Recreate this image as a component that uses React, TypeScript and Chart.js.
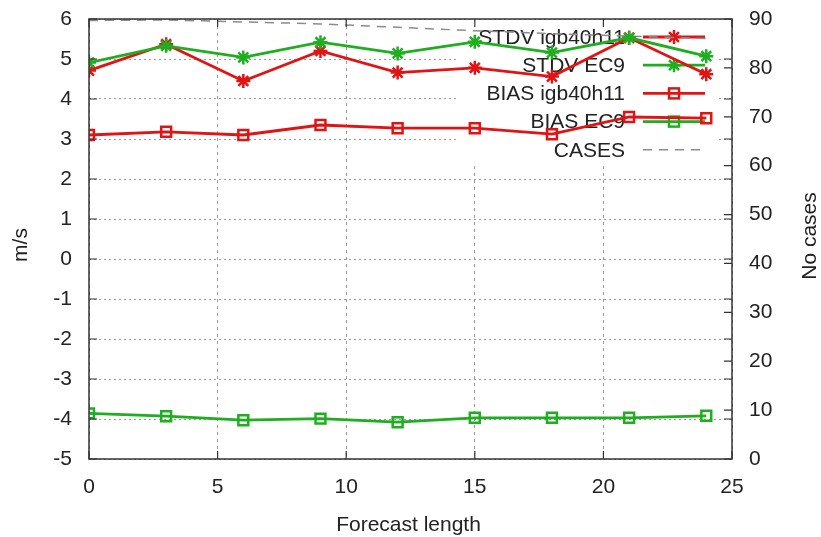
import React, { useEffect, useRef } from 'react';
import { Chart, registerables } from 'chart.js';

Chart.register(...registerables);

// ---- data ----
const forecastHours = [0, 3, 6, 9, 12, 15, 18, 21, 24];
const stdvIgb40h11 = [4.71, 5.37, 4.45, 5.2, 4.66, 4.78, 4.56, 5.53, 4.62];
const stdvEC9 = [4.91, 5.33, 5.04, 5.42, 5.14, 5.43, 5.16, 5.53, 5.07];
const biasIgb40h11 = [3.1, 3.18, 3.1, 3.35, 3.27, 3.27, 3.12, 3.55, 3.52];
const biasEC9 = [-3.86, -3.93, -4.03, -3.99, -4.08, -3.97, -3.97, -3.97, -3.92];
const casesCount = [89.7, 89.8, 89.4, 89, 88.3, 87.6, 87, 86.5, 86];

const seriesNames = ['STDV igb40h11', 'STDV EC9', 'BIAS igb40h11', 'BIAS EC9', 'CASES'];
const xTitle = 'Forecast length';
const yTitle = 'm/s';
const y2Title = 'No cases';

const RED = '#e01414';
const GREEN = '#1fae1f';
const GREY = '#8c8c8c';
const TEXT = '#222222';
const FONT = '"Liberation Sans", Arial, sans-serif';

const pts = (ys: number[]) => forecastHours.map((x, i) => ({ x, y: ys[i] }));

export default function App() {
  const ref = useRef<HTMLCanvasElement>(null);

  useEffect(() => {
    const canvas = ref.current;
    if (!canvas) return;

    const drawStar = (ctx: CanvasRenderingContext2D, x: number, y: number, r: number) => {
      const d = r * Math.SQRT1_2;
      ctx.beginPath();
      ctx.moveTo(x - r, y); ctx.lineTo(x + r, y);
      ctx.moveTo(x, y - r); ctx.lineTo(x, y + r);
      ctx.moveTo(x - d, y - d); ctx.lineTo(x + d, y + d);
      ctx.moveTo(x - d, y + d); ctx.lineTo(x + d, y - d);
      ctx.stroke();
    };

    const legendStyles = [
      { color: RED, marker: 'star', dash: [] as number[] },
      { color: GREEN, marker: 'star', dash: [] as number[] },
      { color: RED, marker: 'rect', dash: [] as number[] },
      { color: GREEN, marker: 'rect', dash: [] as number[] },
      { color: GREY, marker: 'none', dash: [9, 7] },
    ];

    const decor = {
      id: 'gnuplotDecor',
      beforeDatasetsDraw(chart: any) {
        const ctx: CanvasRenderingContext2D = chart.ctx;
        const a = chart.chartArea;
        ctx.save();
        // opaque key box (hides grid behind the key)
        ctx.fillStyle = '#ffffff';
        ctx.fillRect(458, a.top + 1, 258, 144);
        // key entries
        ctx.font = `21px ${FONT}`;
        ctx.textAlign = 'right';
        ctx.textBaseline = 'middle';
        seriesNames.forEach((name, i) => {
          const yy = 37 + i * 28.2;
          ctx.fillStyle = TEXT;
          ctx.fillText(name, 625, yy + 1);
          const st = legendStyles[i];
          ctx.strokeStyle = st.color;
          ctx.lineWidth = st.marker === 'none' ? 1.5 : 2.8;
          ctx.setLineDash(st.dash);
          ctx.beginPath();
          ctx.moveTo(643, yy);
          ctx.lineTo(705, yy);
          ctx.stroke();
          ctx.setLineDash([]);
          ctx.lineWidth = 2.5;
          if (st.marker === 'star') drawStar(ctx, 674, yy, 7);
          if (st.marker === 'rect') ctx.strokeRect(669, yy - 5, 10, 10);
        });
        ctx.restore();
      },
      afterDraw(chart: any) {
        const ctx: CanvasRenderingContext2D = chart.ctx;
        const a = chart.chartArea;
        const xs = chart.scales.x;
        const ys = chart.scales.y;
        const y2 = chart.scales.y1;
        ctx.save();
        // border
        ctx.strokeStyle = '#333333';
        ctx.lineWidth = 1.5;
        ctx.setLineDash([]);
        ctx.strokeRect(a.left, a.top, a.right - a.left, a.bottom - a.top);
        // inward ticks
        const tl = 8;
        ctx.lineWidth = 1.2;
        ctx.beginPath();
        xs.ticks.forEach((t: any) => {
          const px = xs.getPixelForValue(t.value);
          ctx.moveTo(px, a.bottom); ctx.lineTo(px, a.bottom - tl);
          ctx.moveTo(px, a.top); ctx.lineTo(px, a.top + tl);
        });
        ys.ticks.forEach((t: any) => {
          const py = ys.getPixelForValue(t.value);
          ctx.moveTo(a.left, py); ctx.lineTo(a.left + tl, py);
          ctx.moveTo(a.right, py); ctx.lineTo(a.right - tl, py);
        });
        y2.ticks.forEach((t: any) => {
          const py = y2.getPixelForValue(t.value);
          ctx.moveTo(a.right, py); ctx.lineTo(a.right - tl, py);
        });
        ctx.stroke();
        // axis titles
        ctx.fillStyle = TEXT;
        ctx.font = `21px ${FONT}`;
        ctx.textAlign = 'center';
        ctx.textBaseline = 'middle';
        ctx.fillText(xTitle, (a.left + a.right) / 2 - 2, 525);
        ctx.save();
        ctx.translate(21, (a.top + a.bottom) / 2 + 6);
        ctx.rotate(-Math.PI / 2);
        ctx.fillText(yTitle, 0, 0);
        ctx.restore();
        ctx.save();
        ctx.translate(810, (a.top + a.bottom) / 2 - 3);
        ctx.rotate(-Math.PI / 2);
        ctx.fillText(y2Title, 0, 0);
        ctx.restore();
        ctx.restore();
      },
    };

    const lineBase = {
      borderWidth: 2.8,
      pointBorderWidth: 2.5,
      pointBackgroundColor: 'rgba(0,0,0,0)',
      tension: 0,
      fill: false,
    };

    const fitVertical = (s: any) => {
      s.width = 89;
      s.paddingTop = 0;
      s.paddingBottom = 0;
    };

    const chart = new Chart(canvas, {
      type: 'line',
      data: {
        datasets: [
          { ...lineBase, label: seriesNames[1], data: pts(stdvEC9), borderColor: GREEN, pointBorderColor: GREEN, pointStyle: 'star', pointRadius: 7, yAxisID: 'y' },
          { ...lineBase, label: seriesNames[0], data: pts(stdvIgb40h11), borderColor: RED, pointBorderColor: RED, pointStyle: 'star', pointRadius: 7, yAxisID: 'y' },
          { ...lineBase, label: seriesNames[3], data: pts(biasEC9), borderColor: GREEN, pointBorderColor: GREEN, pointStyle: 'rect', pointRadius: 7, yAxisID: 'y' },
          { ...lineBase, label: seriesNames[2], data: pts(biasIgb40h11), borderColor: RED, pointBorderColor: RED, pointStyle: 'rect', pointRadius: 7, yAxisID: 'y' },
          { ...lineBase, label: seriesNames[4], data: pts(casesCount), borderColor: GREY, borderWidth: 1.5, borderDash: [9, 7], pointRadius: 0, yAxisID: 'y1' },
        ],
      },
      options: {
        animation: false,
        responsive: false,
        devicePixelRatio: 1,
        layout: { padding: { top: 19, left: 0, right: 0, bottom: 0 } },
        plugins: { legend: { display: false }, tooltip: { enabled: false } },
        scales: {
          x: {
            type: 'linear',
            position: 'bottom',
            min: 0,
            max: 25,
            ticks: { stepSize: 5, padding: 16, color: TEXT, font: { family: FONT, size: 21 }, maxRotation: 0 },
            grid: { color: '#9a9a9a', lineWidth: 1, drawTicks: false },
            border: { display: false, dash: [3, 4] },
            afterFit: (s: any) => { s.height = 78; },
          },
          y: {
            type: 'linear',
            position: 'left',
            min: -5,
            max: 6,
            ticks: { stepSize: 1, padding: 17, color: TEXT, font: { family: FONT, size: 21 } },
            grid: { color: '#9a9a9a', lineWidth: 1, drawTicks: false },
            border: { display: false, dash: [2, 3] },
            afterFit: fitVertical,
          },
          y1: {
            type: 'linear',
            position: 'right',
            min: 0,
            max: 90,
            ticks: { stepSize: 10, padding: 17, color: TEXT, font: { family: FONT, size: 21 } },
            grid: { drawOnChartArea: false, drawTicks: false },
            border: { display: false },
            afterFit: fitVertical,
          },
        },
      },
      plugins: [decor],
    } as any);

    return () => chart.destroy();
  }, []);

  return (
    <div style={{ position: 'fixed', left: 0, top: 0, width: 821, height: 537 }}>
      <canvas ref={ref} width={821} height={537} style={{ width: 821, height: 537, display: 'block' }} />
    </div>
  );
}
